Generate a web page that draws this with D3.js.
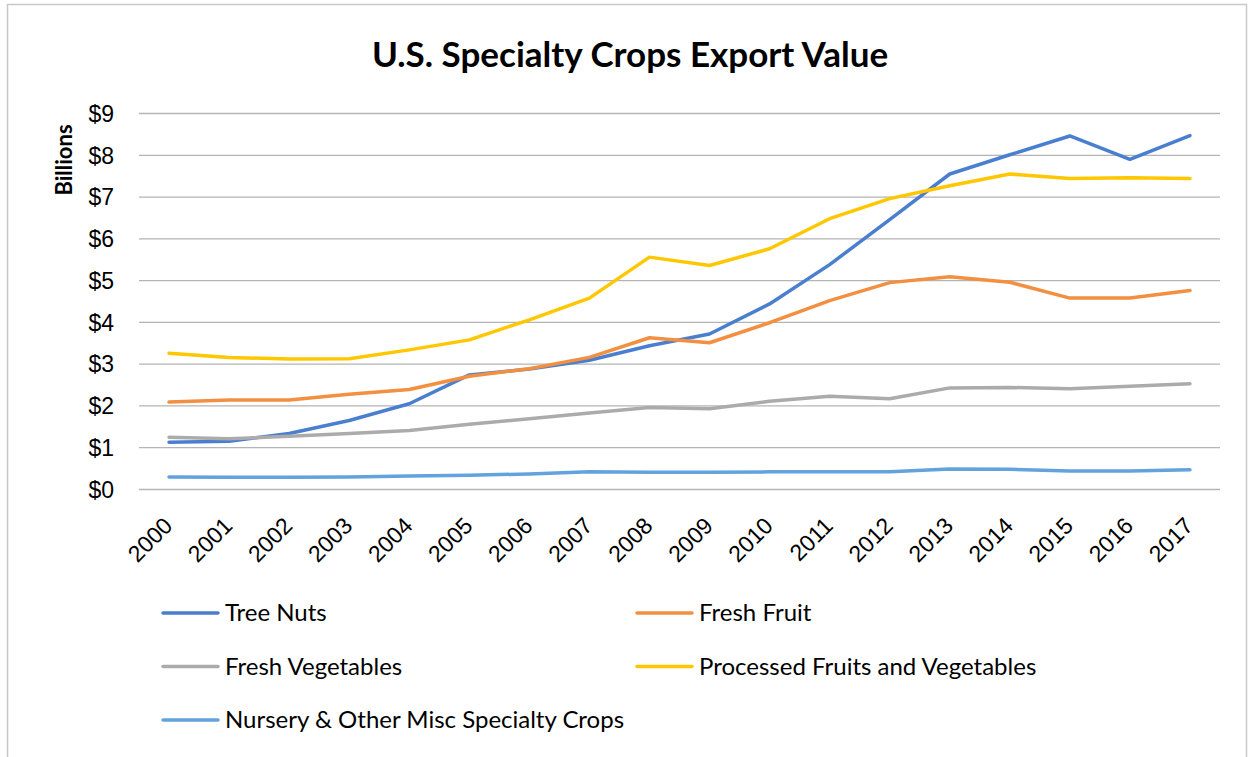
<!DOCTYPE html>
<html>
<head>
<meta charset="utf-8">
<style>
    body { margin: 0; background: #fff; }
    svg { font-family: Lato, 'Open Sans', sans-serif; }
    .grid line { stroke: #b4b4b4; stroke-width: 1.3; }
    .grid .domain { display: none; }
    .y .tick text { font-size: 23px; fill: #000; }
    .x .tick text { font-size: 23px; fill: #000; }
    .x .domain, .x .tick line { display: none; }
    .legend text { font-size: 24px; fill: #000; }
</style>
</head>
<body>
<svg width="1253" height="757"></svg>
<script src="https://d3js.org/d3.v7.min.js"></script>
<script>
    // data (billions of dollars)
    let years = ["2000", "2001", "2002", "2003", "2004", "2005", "2006", "2007", "2008",
        "2009", "2010", "2011", "2012", "2013", "2014", "2015", "2016", "2017"];

    let treeNuts = [1.12, 1.14, 1.33, 1.64, 2.04, 2.73, 2.87, 3.08, 3.43, 3.71, 4.43, 5.37, 6.45, 7.54, 8.0, 8.45, 7.89, 8.46];
    let freshFruit = [2.08, 2.13, 2.13, 2.27, 2.38, 2.70, 2.88, 3.15, 3.62, 3.50, 3.98, 4.51, 4.94, 5.08, 4.95, 4.57, 4.57, 4.75];
    let freshVeg = [1.24, 1.20, 1.26, 1.33, 1.40, 1.55, 1.68, 1.82, 1.95, 1.92, 2.10, 2.22, 2.16, 2.42, 2.43, 2.40, 2.46, 2.52];
    let processed = [3.25, 3.15, 3.11, 3.12, 3.33, 3.57, 4.05, 4.57, 5.55, 5.35, 5.75, 6.47, 6.95, 7.26, 7.54, 7.43, 7.45, 7.43];
    let nursery = [0.29, 0.28, 0.28, 0.29, 0.31, 0.33, 0.36, 0.41, 0.40, 0.40, 0.41, 0.41, 0.41, 0.48, 0.47, 0.43, 0.43, 0.46];

    let seriesNames = ["Tree Nuts", "Fresh Fruit", "Fresh Vegetables", "Processed Fruits and Vegetables", "Nursery & Other Misc Specialty Crops"];
    let seriesColors = ["#4a7fd0", "#f28f41", "#ababab", "#ffc700", "#62a3dd"];
    let yTicks = [0, 1, 2, 3, 4, 5, 6, 7, 8, 9];

    let series = [treeNuts, freshFruit, freshVeg, processed, nursery].map(function (vals, i) {
        return { name: seriesNames[i], color: seriesColors[i], values: vals };
    });

    let svg = d3.select("svg");
    let margin = { top: 113, right: 33, bottom: 268, left: 139 };
    let width = 1253, height = 757;

    // outer chart border
    svg.append("rect")
        .attr("x", 7.5).attr("y", 4.5)
        .attr("width", 1239).attr("height", 760)
        .attr("fill", "none")
        .attr("stroke", "#c8c8c8")
        .attr("stroke-width", 1.5)

    let x = d3.scalePoint()
        .domain(years)
        .range([margin.left, width - margin.right])
        .padding(0.5)

    let y = d3.scaleLinear()
        .domain([0, 9])
        .range([height - margin.bottom, margin.top])

    svg.append("g")
        .attr("class", "grid y")
        .attr("transform", `translate(${margin.left},0)`)
        .call(d3.axisLeft(y)
            .tickValues(yTicks)
            .tickSize(-(width - margin.right - margin.left))
            .tickPadding(25)
            .tickFormat(function (d) { return "$" + d }))
        .selectAll(".tick text")
        .attr("dy", "0.36em")

    svg.append("g")
        .attr("class", "x axis")
        .attr("transform", `translate(0,${height - margin.bottom})`)
        .call(d3.axisBottom(x).tickSize(0).tickPadding(0))
        .selectAll(".tick text")
        .attr("text-anchor", "end")
        .attr("transform", "translate(-8,26) rotate(-45)")
        .attr("dy", "0.75em")

    let line = d3.line()
        .x(function (d, i) { return x(years[i]) })
        .y(function (d) { return y(d) })

    svg.append("g")
        .selectAll("path")
        .data(series)
        .join("path")
        .attr("d", function (d) { return line(d.values) })
        .attr("fill", "none")
        .attr("stroke", function (d) { return d.color })
        .attr("stroke-width", 3.5)
        .attr("stroke-linejoin", "round")
        .attr("stroke-linecap", "round")

    svg.append("text")
        .attr("x", 630)
        .attr("y", 67)
        .attr("text-anchor", "middle")
        .style("font-size", "35px")
        .style("font-weight", "bold")
        .text("U.S. Specialty Crops Export Value")

    svg.append("text")
        .attr("transform", "translate(72,160) rotate(-90)")
        .attr("text-anchor", "middle")
        .style("font-size", "22px")
        .style("font-weight", "bold")
        .text("Billions")

    // legend: two columns, three rows
    let legend = svg.append("g").attr("class", "legend")
        .selectAll("g")
        .data(series)
        .join("g")
        .attr("transform", function (d, i) {
            let col = i % 2, row = Math.floor(i / 2);
            return `translate(${163 + col * 474},${613 + row * 53.5})`
        })

    legend.append("line")
        .attr("x1", 0).attr("x2", 55)
        .attr("stroke", function (d) { return d.color })
        .attr("stroke-width", 3.5)
        .attr("stroke-linecap", "round")

    legend.append("text")
        .attr("x", 62)
        .attr("dy", "0.35em")
        .text(function (d) { return d.name })
</script>
</body>
</html>
